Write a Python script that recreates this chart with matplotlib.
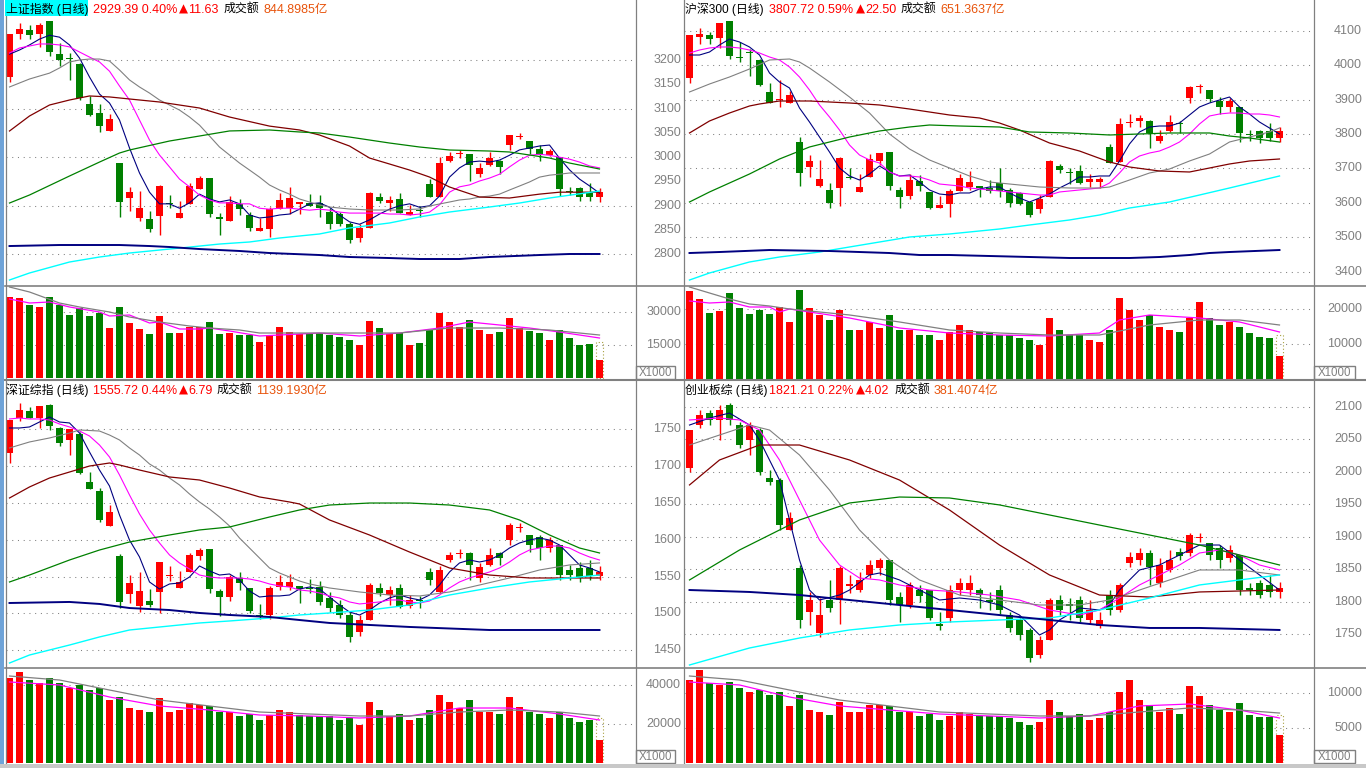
import numpy as np
import matplotlib
matplotlib.use("Agg")
import matplotlib.pyplot as plt
from matplotlib.lines import Line2D
from matplotlib.patches import Rectangle
from matplotlib.transforms import blended_transform_factory

W, H = 1366, 768
plt.rcParams["font.family"] = ["Liberation Sans", "Noto Sans CJK SC", "DejaVu Sans"]

RED = "#FF0000"
GREEN = "#008000"
GRAY = "#808080"
ORANGE = "#E8540C"
NAVY = "#000080"
MAGENTA = "#FF00FF"
MAROON = "#800000"
CYAN = "#00FFFF"

# ---------------- 上证指数 ----------------
sh_open = [3165, 3253, 3262, 3253, 3280, 3212, 3205, 3192, 3109, 3091, 3054, 2988, 2916, 2875, 2873, 2879, 2905, 2875, 2904, 2935,
           2957, 2877, 2869, 2904, 2881, 2848, 2852, 2893, 2895, 2904, 2906, 2906, 2887, 2883, 2863, 2834, 2854, 2918, 2906, 2914,
           2881, 2891, 2945, 2918, 2992, 3006, 3006, 2965, 2984, 2992, 3025, 3042, 3033, 3017, 3004, 3000, 2931, 2937, 2926, 2918]
sh_close = [3253, 3264, 3251, 3272, 3216, 3200, 3203, 3122, 3087, 3064, 3079, 2908, 2928, 2895, 2852, 2941, 2903, 2885, 2941, 2957,
            2883, 2873, 2908, 2893, 2854, 2854, 2893, 2912, 2916, 2908, 2900, 2895, 2863, 2863, 2830, 2854, 2926, 2910, 2912, 2885,
            2887, 2890, 2918, 2988, 3002, 3009, 2984, 2978, 2998, 2980, 3046, 3044, 3017, 3004, 3013, 2935, 2928, 2918, 2918, 2929.39]
sh_high = [3254, 3276, 3272, 3276, 3280, 3235, 3214, 3194, 3126, 3109, 3089, 2988, 2939, 2930, 2889, 2943, 2922, 2910, 2947, 2961,
           2957, 2885, 2920, 2914, 2887, 2875, 2897, 2926, 2939, 2908, 2924, 2922, 2895, 2887, 2867, 2863, 2928, 2926, 2920, 2926,
           2902, 2900, 2955, 3000, 3011, 3015, 3006, 2988, 3011, 2994, 3046, 3050, 3033, 3025, 3017, 3000, 2939, 2939, 2947, 2937]
sh_low = [3155, 3243, 3243, 3227, 3208, 3188, 3159, 3118, 3085, 3052, 3054, 2877, 2889, 2869, 2846, 2840, 2895, 2875, 2904, 2935,
          2877, 2840, 2869, 2881, 2848, 2848, 2836, 2893, 2883, 2883, 2900, 2877, 2852, 2858, 2823, 2825, 2854, 2906, 2889, 2885,
          2881, 2877, 2918, 2918, 2990, 2998, 2951, 2959, 2982, 2965, 3015, 3037, 3007, 2992, 3002, 2920, 2922, 2910, 2910, 2908]
sh_ma5 = [3212, 3220.6, 3231, 3243, 3251, 3247, 3231, 3204, 3165, 3130, 3111.5, 3076.5, 3019, 2967.5, 2928, 2904, 2904, 2895, 2906, 2924,
          2914, 2908, 2912, 2904, 2881, 2875, 2877, 2881, 2883, 2893, 2904, 2906, 2897, 2881, 2867, 2862, 2871, 2883, 2893, 2900,
          2904, 2897, 2900, 2920, 2959, 2978, 2990, 2992, 2990, 2994, 3004, 3015, 3019, 3023, 3025, 2998, 2974, 2955, 2941, 2926]
sh_ma10 = [3214.4, 3224.7, 3228.8, 3233, 3233, 3231, 3227, 3216.5, 3206, 3196, 3177, 3146.5, 3117.7, 3076.5, 3035.4, 3004.5, 2980, 2955, 2939, 2922,
           2912, 2906, 2906, 2904, 2904, 2895, 2893, 2895, 2895, 2893, 2891, 2893, 2891, 2887, 2885, 2885, 2885, 2885, 2883, 2883,
           2881, 2883, 2887, 2902, 2928, 2939, 2943, 2951, 2957, 2965, 2980, 2994, 3004, 3006, 3004, 3000, 2996, 2990, 2982, 2978]
sh_ma20 = [3144.5, 3152.7, 3160.9, 3167, 3173, 3183.6, 3196, 3200, 3202, 3202, 3198, 3179.5, 3159, 3144.5, 3132, 3117.7, 3107.4, 3097, 3082.7, 3066,
           3043.6, 3021, 3004.5, 2988, 2973.6, 2959, 2942.8, 2932.5, 2924, 2914, 2907.8, 2901.6, 2897.5, 2895.4, 2893.4, 2892.4, 2891.3, 2891.3, 2891.3, 2891.3,
           2892.4, 2893.4, 2899.5, 2903.7, 2907.8, 2912, 2914, 2918, 2920, 2924, 2932.5, 2940.7, 2949, 2959, 2963, 2965, 2967.5, 2967.5, 2967.5, 2967.5]
sh_ma60_i = [0, 2, 4, 6, 8, 10, 12, 15, 19, 22, 26, 29, 31, 34, 36, 38, 40, 42, 44, 47, 50, 53, 55, 59]
sh_ma60 = [3053.9, 3084.8, 3107.4, 3117.7, 3126, 3124, 3119.8, 3113.6, 3101.2, 3082.7, 3064, 3056, 3045.7, 3023, 2998.3, 2986, 2973.6, 2959.2,
           2938.7, 2918, 2916, 2924, 2928, 2928]
sh_ma120_i = [0, 2, 6, 9, 11, 12, 16, 19, 22, 26, 29, 31, 34, 38, 41, 44, 48, 50, 52, 54, 56, 59]
sh_ma120 = [2905.7, 2922.2, 2961.3, 2990, 3008.6, 3014.8, 3033.3, 3043.6, 3054, 3056, 3051.9, 3049.8, 3041.5, 3029.2, 3021, 3014.8, 3012.7,
            3010.7, 3004.5, 2998.3, 2988, 2975.7]
sh_ma250_i = [0, 2, 6, 9, 12, 16, 18, 21, 24, 27, 31, 34, 38, 41, 44, 48, 51, 54, 59]
sh_ma250 = [2747.3, 2761.7, 2784.3, 2794.6, 2802.8, 2811, 2815, 2821.3, 2825.5, 2833.7, 2842, 2854.3, 2864.6, 2877, 2887.2, 2897.5, 2905.7, 2916, 2930.4]
sh_malong_i = [0, 5, 11, 14, 16, 19, 23, 26, 31, 34, 38, 41, 45, 48, 53, 56, 59]
sh_malong = [2817.2, 2819.3, 2819.3, 2817.2, 2815.2, 2811, 2807, 2802.8, 2798.7, 2794.6, 2792.5, 2790.5, 2790.5, 2794.6, 2798.7, 2800.8, 2800.8]
sh_vol = [36950, 36360, 33300, 32400, 36950, 33300, 28770, 31950, 28320, 29680, 22860, 32400, 25130, 22400, 20130, 28320, 20590, 20590, 23180, 23320,
          25590, 20130, 20590, 19680, 19680, 16500, 19680, 23180, 21040, 20130, 20130, 20590, 19540, 18630, 17270, 15000, 25900, 22720, 20000, 20450,
          15000, 15900, 21800, 29540, 25450, 23180, 26360, 21800, 20000, 20900, 27270, 22720, 21360, 20450, 17270, 21800, 18180, 15000, 15450, 8180]
sh_vol_full = 16360
sh_vma5_i = [0, 2, 4, 6, 9, 10, 12, 14, 15, 17, 19, 20, 22, 25, 27, 31, 35, 39, 43, 46, 49, 52, 55, 59]
sh_vma5 = [35900, 34090, 34540, 32270, 30000, 28180, 28630, 25000, 25450, 22270, 22270, 22720, 21360, 19090, 19540, 20450, 19090, 20450,
           22720, 25450, 24090, 22720, 20900, 18180]
sh_vma10_i = [0, 2, 5, 7, 10, 12, 15, 18, 20, 23, 25, 31, 39, 44, 49, 54, 59]
sh_vma10 = [41360, 39090, 34090, 32270, 30000, 27720, 25450, 23630, 22720, 21820, 20450, 20450, 20450, 22720, 22720, 21820, 19540]

# ---------------- 沪深300 ----------------
hs_open = [3962.8, 4082, 4087.8, 4079, 4128.5, 4023.8, 4037, 4015, 3922, 3898.8, 3890, 3776.7, 3704, 3648.8, 3637, 3643, 3675.9, 3631.4, 3675, 3721.5,
           3747.6, 3637, 3619.7, 3663.3, 3631.4, 3585, 3596.5, 3634.3, 3646, 3648.8, 3643, 3657.5, 3637, 3628.5, 3602.3, 3582, 3616.8, 3707, 3690.9, 3692.4,
           3660.4, 3660.4, 3762.2, 3718.6, 3832, 3837.7, 3837.7, 3779.6, 3808.7, 3832, 3904.6, 3936.6, 3927.9, 3895.9, 3878.5, 3878.5, 3798.5, 3808.7, 3808.7, 3788.3]
hs_close = [4087.8, 4090.7, 4076.1, 4122.6, 4026.7, 4021, 4034, 3942.4, 3890, 3901.7, 3913.3, 3686.6, 3721.5, 3669, 3599.4, 3730, 3672, 3646, 3727.3, 3744.8,
            3648.8, 3616.8, 3666, 3648.8, 3585, 3593.6, 3634.3, 3672, 3660.5, 3643, 3634.3, 3634.3, 3599.4, 3596.5, 3564.5, 3611, 3721.5, 3695.3, 3688, 3657.5,
            3669.1, 3667.7, 3715.7, 3829, 3834.8, 3846.5, 3802.9, 3794.2, 3834.8, 3829, 3936.6, 3939.5, 3901.7, 3878.5, 3895.9, 3802.9, 3795.6, 3788.3, 3788.3, 3807.72]
hs_high = [4087.8, 4108, 4096.5, 4122.6, 4128.5, 4067.4, 4047, 4018, 3948, 3957, 3925, 3791, 3739, 3724.4, 3657.5, 3733, 3701, 3683.7, 3741.8, 3744.8,
           3747.6, 3646, 3683.7, 3680.8, 3631.4, 3619.7, 3640, 3683.7, 3692.4, 3648.8, 3666, 3701, 3643, 3631.4, 3602.3, 3622.6, 3724.4, 3712.8, 3701.1, 3709.8,
           3683.7, 3675, 3770.9, 3846.5, 3858, 3855.2, 3840.7, 3811.6, 3855.2, 3837.7, 3939.5, 3945.3, 3927.9, 3907.5, 3904.6, 3878.5, 3811.6, 3811.6, 3832, 3820.3]
hs_low = [3948.2, 4061.6, 4061.6, 4050, 4018, 4009.3, 3968.6, 3939.5, 3890, 3878, 3890, 3648.8, 3675, 3646, 3585, 3590.6, 3669, 3631.4, 3675, 3709.8,
          3637, 3585, 3611, 3634.3, 3582, 3585, 3558.7, 3634.3, 3637, 3616.8, 3628.5, 3616.8, 3587.8, 3593.6, 3558.7, 3570.3, 3616.8, 3686.6, 3654.6, 3654.6,
          3645.9, 3643, 3715.7, 3718.6, 3820.3, 3820.3, 3759.3, 3773.8, 3805.8, 3802.9, 3890.1, 3919.2, 3893, 3858.1, 3863.9, 3776.7, 3779.6, 3773.8, 3779.6, 3776.7]
hs_ma5 = [4029.6, 4029.6, 4038.3, 4058.7, 4076.1, 4067.4, 4052.9, 4029.6, 3977.3, 3951.1, 3933.7, 3875.5, 3834.8, 3791.2, 3747.6, 3701.1, 3677.9, 3666.2, 3683.7, 3706.9,
          3689.5, 3677.9, 3680.8, 3660.4, 3637.2, 3625.5, 3622.6, 3628.5, 3628.5, 3640.1, 3645.9, 3645.9, 3628.5, 3613.9, 3602.3, 3613.9, 3625.5, 3643, 3657.5, 3675,
          3675, 3677.9, 3677.9, 3721.5, 3770.9, 3805.8, 3820.3, 3823.2, 3823.2, 3831.9, 3855.2, 3878.5, 3890.1, 3898.8, 3907.5, 3878.5, 3858.1, 3834.8, 3817.4, 3800]
hs_ma10 = [4035.4, 4044.1, 4050, 4052.9, 4052.9, 4050, 4044.1, 4035.4, 4023.8, 4015.1, 3994.7, 3965.7, 3927.9, 3884.3, 3849.4, 3811.6, 3768, 3738.9, 3724.4, 3715.7,
           3689.5, 3677.9, 3677.9, 3675, 3666.2, 3654.6, 3651.7, 3648.8, 3643, 3640.1, 3637.2, 3634.3, 3631.4, 3628.5, 3625.5, 3622.6, 3622.6, 3631.4, 3634.3, 3637.2,
           3640.1, 3643, 3657.5, 3686.6, 3718.6, 3736, 3744.7, 3750.5, 3762.2, 3776.7, 3800, 3829, 3852.3, 3858.1, 3861, 3861, 3858.1, 3858.1, 3855.2, 3849.4]
hs_ma20_i = [0, 2, 4, 6, 8, 10, 11, 12, 14, 16, 18, 20, 22, 24, 26, 28, 30, 32, 35, 38, 41, 42, 44, 46, 48, 50, 52, 54, 56, 58, 59]
hs_ma20 = [3922.1, 3945.3, 3965.7, 3988.9, 4015.1, 4018, 4009.3, 3991.8, 3951.1, 3907.5, 3861, 3800, 3756.4, 3724.4, 3701.1, 3677.9, 3660.4,
           3654.6, 3645.9, 3643, 3643, 3645.9, 3666.2, 3686.6, 3698.2, 3721.5, 3741.8, 3776.7, 3791.2, 3805.8, 3817.4]
hs_ma60_i = [0, 2, 4, 6, 7, 9, 12, 16, 19, 22, 26, 29, 31, 33, 36, 39, 42, 44, 47, 50, 52, 54, 56, 59]
hs_ma60 = [3802.9, 3837.8, 3861, 3881.4, 3887.2, 3895.9, 3895.9, 3890.1, 3884.3, 3872.6, 3855.2, 3846.5, 3831.9, 3811.6, 3773.8, 3750.5,
           3718.6, 3704, 3692.4, 3689.5, 3701.1, 3712.8, 3721.5, 3727.3]
hs_ma120_i = [0, 2, 6, 9, 11, 12, 16, 19, 22, 24, 27, 31, 34, 38, 42, 48, 52, 54, 56, 59]
hs_ma120 = [3602.3, 3631.4, 3683.7, 3727.3, 3750.5, 3762.2, 3791.2, 3808.7, 3820.3, 3826.1, 3823.2, 3820.3, 3805.8, 3802.9, 3797.1, 3802.9,
            3802.9, 3794.1, 3788.3, 3776.7]
hs_ma250_i = [0, 2, 6, 9, 13, 16, 19, 22, 26, 31, 34, 38, 41, 44, 48, 51, 54, 59]
hs_ma250 = [3375.5, 3395.9, 3427.9, 3442.4, 3456.9, 3471.5, 3486, 3500.5, 3509.3, 3523.8, 3535.4, 3550, 3564.5, 3584.8, 3602.3, 3622.6, 3643, 3677.9]
hs_malong_i = [0, 3, 8, 14, 17, 20, 23, 26, 30, 34, 38, 44, 47, 50, 52, 54, 59]
hs_malong = [3454, 3456.9, 3462.7, 3459.8, 3456.9, 3454, 3448.2, 3448.2, 3445.3, 3442.4, 3439.5, 3439.5, 3442.4, 3448.2, 3454, 3456.9, 3462.7]
hs_vol = [25140, 22860, 18860, 19430, 24570, 20280, 18570, 19710, 18570, 20570, 16290, 25430, 20280, 18290, 16860, 19710, 14000, 14000, 16290, 14570,
          18290, 14000, 14000, 12570, 12570, 11140, 13430, 15430, 14000, 13430, 13140, 12570, 12570, 11710, 11140, 9710, 17430, 14000, 12570, 12570,
          11140, 10570, 14000, 23140, 19710, 16860, 18290, 14860, 14000, 13430, 17430, 22000, 17430, 15430, 16290, 14860, 13140, 12000, 11710, 6570]
hs_vol_full = 12570
hs_vma5_i = [0, 1, 2, 4, 6, 8, 9, 10, 16, 21, 26, 31, 36, 41, 43, 46, 51, 55, 59]
hs_vma5 = [22290, 22000, 21710, 22000, 20570, 20570, 19140, 20000, 17430, 14570, 13140, 12570, 12290, 13140, 16860, 18290, 17430, 16290, 13430]
hs_vma10_i = [0, 2, 4, 6, 8, 10, 16, 21, 26, 31, 36, 41, 46, 51, 55, 59]
hs_vma10 = [26280, 24570, 22860, 21430, 20860, 20000, 18290, 16290, 14000, 13140, 12570, 12570, 15430, 16860, 16860, 15430]

# ---------------- 深证综指 ----------------
sz_open = [1716.9, 1764.2, 1773.7, 1764.2, 1781.8, 1750.7, 1734.5, 1742.6, 1677.7, 1665.6, 1618.3, 1577.7, 1526.4, 1510.1, 1516.9, 1529.1, 1550.7, 1534.5, 1556.1, 1577.7,
           1587.2, 1530.4, 1522.3, 1548, 1534.5, 1497.3, 1498, 1535.8, 1535.8, 1537.2, 1534.5, 1535.8, 1521, 1511.5, 1498, 1475, 1491.2, 1534.5, 1525, 1534.5,
           1510.2, 1518.3, 1556.1, 1529.1, 1572.3, 1580.4, 1581.8, 1548, 1565.6, 1581.8, 1599.3, 1615.6, 1606.1, 1603.4, 1588.5, 1592.6, 1558.8, 1561.5, 1561.5, 1550.7]
sz_close = [1761.5, 1775, 1764.2, 1780.4, 1753.4, 1730.4, 1749.4, 1689.9, 1668.3, 1626.4, 1637.2, 1515.5, 1541.2, 1530.4, 1511.5, 1569.6, 1552.1, 1542.6, 1579.1, 1585.8,
            1533.1, 1522.3, 1549.3, 1541.2, 1503.4, 1496, 1534.5, 1542.6, 1542.6, 1533.1, 1533.1, 1515.5, 1507.4, 1498, 1468.3, 1491.2, 1538.5, 1527.7, 1531.8, 1508.8,
            1518.3, 1516.9, 1545.3, 1558.8, 1579.1, 1581.8, 1565.6, 1562.9, 1579.1, 1575, 1619.6, 1616.9, 1592.6, 1588.5, 1599.3, 1552, 1552, 1548, 1550.7, 1555.72]
sz_high = [1761.5, 1784.5, 1779, 1780.4, 1783.1, 1752.1, 1749.4, 1745.3, 1691.2, 1669.6, 1646.6, 1580.4, 1552.1, 1556.1, 1533.1, 1569.6, 1564.2, 1557.4, 1581.8, 1588.5,
           1587.2, 1533.1, 1552.1, 1556.1, 1534.5, 1512.8, 1537.2, 1552.1, 1553.5, 1537.2, 1546.6, 1543.9, 1529.1, 1518.3, 1502, 1498, 1541.2, 1541.2, 1537.2, 1539.9,
           1525, 1523.7, 1561.5, 1564.2, 1583.1, 1587.2, 1583.1, 1568.3, 1588.5, 1583.1, 1622.3, 1622.3, 1606.1, 1606.1, 1603.4, 1592.6, 1565.6, 1569.6, 1572.3, 1564.2]
sz_low = [1703.4, 1760.1, 1764.2, 1750.7, 1748, 1726.4, 1714.2, 1688.6, 1668.3, 1623.7, 1618.3, 1507.4, 1514.2, 1502, 1508.8, 1500.7, 1543.9, 1534.5, 1556.1, 1572.3,
          1527.7, 1496.6, 1516.9, 1531.8, 1500.7, 1492.6, 1492.6, 1531.8, 1531.8, 1514.2, 1527.7, 1511.5, 1502, 1493.9, 1461.5, 1469.6, 1491.2, 1523.7, 1511.5, 1507.4,
          1507.4, 1507.4, 1538.5, 1527.7, 1569.6, 1575, 1545.3, 1542.6, 1564.2, 1565.6, 1592.6, 1610.2, 1583.1, 1572.3, 1583.1, 1545.3, 1545.3, 1542.6, 1545.3, 1545.3]
sz_ma5 = [1750.7, 1750.7, 1752.1, 1758.8, 1765.6, 1758.8, 1757.5, 1743.9, 1718.3, 1693.9, 1672.3, 1633.1, 1599.3, 1576.4, 1542.6, 1533.1, 1539.9, 1541.2, 1549.3, 1564.2,
          1557.5, 1552, 1553.4, 1545.3, 1530.4, 1522.3, 1523.7, 1523.7, 1525, 1533.1, 1535.8, 1533.1, 1522.3, 1511.5, 1502, 1498, 1504.7, 1514.2, 1521, 1525,
          1521, 1518.3, 1525, 1538.5, 1556.1, 1568.3, 1572.3, 1569.6, 1572.3, 1579.1, 1588.5, 1595.3, 1599.3, 1602, 1599.3, 1592.6, 1579.1, 1565.6, 1561.5, 1556.1]
sz_ma10 = [1762.9, 1764.2, 1762.9, 1762.9, 1761.5, 1756.1, 1752.1, 1746.6, 1739.9, 1727.7, 1711.5, 1687.2, 1660.2, 1634.5, 1612.9, 1595.3, 1579.1, 1568.3, 1560.2, 1552,
           1549.3, 1548, 1548, 1548, 1546.6, 1543.9, 1539.9, 1537.2, 1535.8, 1531.8, 1530.4, 1527.7, 1523.7, 1521, 1515.6, 1512.9, 1514.2, 1515.6, 1518.3, 1518.3,
           1515.6, 1514.2, 1516.9, 1525, 1534.5, 1542.6, 1548, 1552, 1556.1, 1561.5, 1569.6, 1579.1, 1585.8, 1588.5, 1591.2, 1591.2, 1588.5, 1581.8, 1576.4, 1572.3]
sz_ma20_i = [0, 2, 4, 6, 7, 9, 10, 11, 12, 13, 14, 15, 16, 17, 18, 19, 20, 21, 22, 23, 24, 25, 26, 27, 28, 29, 30, 31, 32, 35, 38, 41, 44, 47, 50, 53, 56, 59]
sz_ma20 = [1723.7, 1731.8, 1737.2, 1743.9, 1748, 1746.6, 1741.2, 1734.5, 1723.7, 1714.2, 1702.1, 1693.9, 1683.1, 1673.7, 1661.5, 1650.7, 1641.2, 1630.4, 1618.3, 1602,
           1588.5, 1575, 1561.5, 1554.7, 1549.3, 1543.9, 1539.9, 1537.2, 1534.5, 1529.1, 1525, 1523.7, 1529.1, 1538.5, 1548, 1558.8, 1565.6, 1568.3]
sz_ma60_i = [0, 2, 4, 6, 8, 10, 11, 13, 16, 19, 22, 25, 28, 29, 32, 36, 40, 44, 48, 52, 56, 59]
sz_ma60 = [1656.1, 1671, 1683.1, 1691.2, 1699.3, 1703.4, 1700.7, 1693.9, 1684.5, 1680.4, 1669.6, 1657.5, 1650.7, 1648, 1626.4, 1606.1, 1583.1, 1561.5,
           1552, 1548, 1548, 1548]
sz_ma120_i = [0, 2, 6, 9, 12, 16, 19, 22, 26, 29, 32, 36, 40, 44, 48, 51, 54, 57, 59]
sz_ma120 = [1542.6, 1552, 1572.3, 1585.8, 1596.6, 1606.1, 1612.9, 1616.9, 1630.4, 1639.9, 1646.6, 1649.3, 1649.3, 1646.6, 1639.9, 1626.4, 1606.1, 1588.5, 1581.8]
sz_ma250_i = [0, 2, 6, 9, 12, 16, 19, 22, 26, 29, 32, 36, 40, 44, 48, 52, 56, 59]
sz_ma250 = [1433.1, 1443.9, 1457.4, 1468.3, 1477.7, 1483.1, 1487.2, 1489.9, 1493.9, 1498, 1500.7, 1504.7, 1511.5, 1525, 1534.5, 1542.6, 1548, 1552]
sz_malong_i = [0, 6, 9, 12, 16, 19, 22, 26, 29, 32, 40, 48, 59]
sz_malong = [1514.2, 1515.6, 1512.9, 1507.4, 1504.7, 1500.7, 1498, 1495.3, 1491.2, 1487.2, 1481.8, 1477.7, 1477.7]
sz_vol = [43590, 46660, 42560, 41020, 43590, 41020, 38460, 40000, 37430, 38460, 32310, 33840, 28200, 27180, 26150, 33330, 26150, 27180, 30770, 29740,
          29230, 26150, 26150, 24100, 25130, 22050, 24610, 27180, 26150, 24610, 24100, 24100, 24100, 22050, 23080, 19490, 31280, 27180, 24100, 25130,
          22050, 23080, 27180, 34870, 31280, 28200, 32310, 26150, 26150, 25130, 33840, 28720, 26150, 25130, 23080, 26150, 23080, 21020, 22050, 11790]
sz_vol_full = 23080
sz_vma5_i = [0, 5, 10, 15, 20, 25, 30, 35, 40, 45, 50, 55, 59]
sz_vma5 = [41540, 40000, 33840, 29230, 27180, 24610, 24100, 23080, 24100, 28200, 28200, 25130, 22050]
sz_vma10_i = [0, 5, 10, 15, 20, 25, 30, 35, 40, 45, 50, 55, 59]
sz_vma10 = [44610, 42560, 37430, 32310, 29230, 26150, 25130, 24100, 24100, 26150, 27180, 26150, 24100]

# ---------------- 创业板综 ----------------
cy_open = [2005.9, 2072.2, 2090.7, 2080, 2103.1, 2072.2, 2049.1, 2064.5, 1990.5, 1987.4, 1910.4, 1851.8, 1783.9, 1751.5, 1802.4, 1802.4, 1824, 1817.8, 1841, 1851.8,
           1864.1, 1807, 1794.7, 1817.8, 1817.8, 1765.4, 1774.6, 1817.8, 1817.8, 1817.8, 1802.4, 1817.8, 1779.2, 1771.6, 1756.2, 1717.6, 1740.8, 1802.4, 1796.3, 1802.4,
           1771.6, 1762.3, 1810.1, 1787, 1859.5, 1864.1, 1874.9, 1828.6, 1848.7, 1876.4, 1874.9, 1898, 1890.3, 1882.6, 1867.2, 1871.8, 1820.9, 1828.6, 1825.6, 1814.8]
cy_close = [2064.5, 2087.6, 2080, 2095.4, 2080, 2041.4, 2072.2, 1999.8, 1984.4, 1918, 1928.8, 1771.6, 1802.4, 1779.2, 1790.1, 1851.8, 1827.1, 1833.3, 1856.4, 1864.1,
            1802.4, 1794.7, 1825.6, 1808.6, 1774.6, 1762.3, 1817.8, 1828.6, 1828.6, 1810.1, 1799.3, 1787, 1759.3, 1748.5, 1713, 1740.8, 1802.4, 1787, 1793.2, 1774.6,
            1787, 1771.6, 1787, 1825.6, 1868.7, 1874.9, 1853.3, 1856.4, 1864.1, 1870.3, 1902.6, 1899.6, 1871.8, 1864.1, 1879.5, 1817.8, 1817.8, 1810.1, 1814.8, 1821.21]
cy_high = [2064.5, 2095.4, 2095.4, 2103.1, 2106.2, 2076.9, 2076.9, 2067.6, 2002.9, 1990.5, 1938.1, 1856.4, 1814.8, 1805.5, 1833.3, 1854.8, 1841, 1845.6, 1864.1, 1867.2,
           1864.1, 1814.8, 1830.2, 1825.6, 1817.8, 1783.9, 1825.6, 1836.3, 1841, 1820.9, 1814.8, 1825.6, 1783.9, 1774.6, 1759.3, 1746.9, 1805.5, 1810.1, 1805.5, 1808.6,
           1802.4, 1783.9, 1817.8, 1828.6, 1876.4, 1882.6, 1879.5, 1867.2, 1879.5, 1882.6, 1905.7, 1905.7, 1890.3, 1887.2, 1887.2, 1871.8, 1828.6, 1833.3, 1841, 1830.2]
cy_low = [1999.8, 2067.6, 2072.2, 2049.1, 2072.2, 2036.8, 2026, 1995.2, 1979.8, 1910.4, 1910.4, 1759.3, 1763.9, 1745.4, 1783.9, 1765.4, 1813.2, 1814.8, 1836.3, 1841,
          1794.7, 1768.5, 1790.1, 1799.3, 1771.6, 1756.2, 1768.5, 1810.1, 1810.1, 1790.1, 1787, 1780.8, 1753.1, 1740.8, 1706.9, 1713, 1740.8, 1779.2, 1771.6, 1768.5,
          1765.4, 1759.3, 1779.2, 1783.9, 1853.3, 1856.4, 1825.6, 1822.5, 1845.6, 1864.1, 1870.3, 1891.8, 1864.1, 1851.8, 1861, 1810.1, 1810.1, 1805.5, 1807, 1805.5]
cy_ma5_i = [0, 2, 4, 6, 7, 9, 10, 11, 12, 13, 15, 16, 18, 19, 21, 23, 25, 27, 29, 31, 33, 35, 36, 37, 39, 41, 42, 43, 45, 47, 49, 51, 53, 55, 57, 59]
cy_ma5 = [2072.2, 2083, 2090.7, 2072.2, 2049.1, 1987.4, 1925.8, 1864.1, 1817.8, 1802.4, 1810.1, 1817.8, 1841, 1844, 1833.3, 1817.8, 1802.4, 1805.5,
          1802.4, 1794.7, 1779.2, 1748.5, 1756.2, 1771.6, 1790.1, 1787, 1794.7, 1817.8, 1848.7, 1856.4, 1871.8, 1887.2, 1887.2, 1864.1, 1841, 1817.8]
cy_ma10_i = [0, 3, 5, 7, 9, 11, 13, 15, 17, 19, 21, 24, 27, 30, 33, 36, 39, 41, 43, 45, 47, 49, 51, 53, 55, 57, 59]
cy_ma10 = [2080, 2083, 2080, 2064.5, 2018.3, 1956.6, 1894.9, 1856.4, 1836.3, 1833.3, 1825.6, 1817.8, 1814.8, 1810.1, 1802.4, 1787, 1779.2, 1787,
           1805.5, 1825.6, 1841, 1856.4, 1874.9, 1879.5, 1871.8, 1856.4, 1848.7]
cy_ma20_i = [0, 3, 6, 8, 11, 14, 17, 20, 23, 27, 31, 35, 39, 42, 45, 48, 51, 55, 59]
cy_ma20 = [2041.4, 2056.8, 2072.2, 2064.5, 2026, 1972, 1910.4, 1864.1, 1833.3, 1810.1, 1802.4, 1794.7, 1794.7, 1802.4, 1817.8, 1833.3, 1848.7, 1848.7, 1841]
cy_ma60_i = [0, 3, 7, 11, 16, 21, 26, 31, 36, 41, 46, 51, 59]
cy_ma60 = [1979.8, 2018.3, 2041.4, 2041.4, 2018.3, 1987.4, 1941.2, 1887.2, 1841, 1810.1, 1807, 1814.8, 1817.8]
cy_ma120_i = [0, 5, 11, 16, 21, 26, 31, 36, 41, 46, 51, 59]
cy_ma120 = [1833.3, 1879.5, 1925.8, 1952, 1961.2, 1959.7, 1949, 1933.5, 1918, 1902.6, 1887.2, 1856.4]
cy_ma250_i = [0, 6, 11, 16, 21, 26, 31, 36, 41, 46, 51, 59]
cy_ma250 = [1702.2, 1728.4, 1743.8, 1756.2, 1763.9, 1768.5, 1771.6, 1774.6, 1787, 1805.5, 1825.6, 1841]
cy_malong_i = [0, 6, 11, 16, 21, 26, 31, 36, 41, 46, 51, 59]
cy_malong = [1817.8, 1814.8, 1810.1, 1802.4, 1794.7, 1787, 1779.2, 1771.6, 1763.9, 1759.3, 1759.3, 1756.2]
cy_vol = [11860, 13290, 11430, 11150, 11570, 10720, 10150, 10430, 9720, 10150, 8150, 9720, 7570, 7290, 6860, 8720, 7290, 7290, 8290, 8290,
          8150, 7290, 7290, 6720, 7000, 6150, 6720, 7290, 7000, 6720, 6720, 6720, 6430, 5860, 5430, 5860, 9000, 7290, 6720, 7000,
          6150, 6430, 7290, 10150, 11860, 9000, 8290, 7290, 7860, 7000, 11000, 9570, 8290, 7570, 7290, 8570, 6860, 6570, 6570, 4000]
cy_vol_full = 6860
cy_vma5_i = [0, 5, 10, 15, 20, 25, 30, 35, 40, 45, 50, 55, 59]
cy_vma5 = [11570, 11150, 9430, 8150, 7570, 7000, 6720, 6430, 6720, 8150, 8430, 7570, 6430]
cy_vma10_i = [0, 5, 10, 15, 20, 25, 30, 35, 40, 45, 50, 55, 59]
cy_vma10 = [12430, 11860, 10430, 9000, 8150, 7290, 7000, 6720, 6720, 7290, 7860, 7570, 7140]

# ---------------- layout ----------------
fig = plt.figure(figsize=(W / 100, H / 100), dpi=100)
fig.patch.set_facecolor("white")


def px_axes(x0, y0, x1, y1):
    ax = fig.add_axes([x0 / W, 1 - y1 / H, (x1 - x0) / W, (y1 - y0) / H])
    ax.set_facecolor("white")
    ax.set_xticks([])
    ax.set_yticks([])
    for s in ax.spines.values():
        s.set_visible(False)
    return ax


def dotted(ax, v):
    ax.axhline(v, color=GRAY, lw=0.75, ls=(0, (1, 4.5)), zorder=0.5)


def draw_panel(p):
    x0, x1, c0 = p["x0"], p["x1"], p["c0"]
    top, mid, bot = p["y_top"], p["y_mid"], p["y_bot"]
    xl = ((x0 - c0) / 10.0, (x1 - c0) / 10.0)

    axp = px_axes(x0, top, x1, mid)
    axp.set_xlim(*xl)
    axp.set_ylim(*p["ylim"])
    unit = (p["ylim"][1] - p["ylim"][0]) / (mid - top)

    o, h, l, c = (np.asarray(p[k], float) for k in ("open", "high", "low", "close"))
    x = np.arange(len(c))
    cols = np.where(c >= o, RED, GREEN)
    for g in p["grid"]:
        dotted(axp, g)
    axp.vlines(x, l, h, colors=cols, lw=1.0, zorder=2)
    axp.bar(x, np.maximum(np.abs(c - o), unit), width=0.7, bottom=np.minimum(o, c),
            color=cols, linewidth=0, zorder=2.5)
    for xi, vals, col, lw in p["lines"]:
        axp.plot(xi, vals, color=col, lw=lw, zorder=3, solid_joinstyle="round")

    trp = blended_transform_factory(fig.transFigure, axp.transData)
    for t in p["ticks"]:
        axp.text(p["lab_x"] / W, t, str(t), transform=trp, ha="right", va="center",
                 color=GRAY, fontsize=9, clip_on=False)

    # volume
    axv = px_axes(x0, mid + 1, x1, bot)
    axv.set_xlim(*xl)
    axv.set_ylim(*p["vlim"])
    v = np.asarray(p["vol"], float)
    for g in p["vticks"]:
        dotted(axv, g)
    axv.add_patch(Rectangle((x[-1] - 0.35, 0), 0.7, p["vol_full"], fill=False,
                            ec="#A8A040", lw=0.8, ls=(0, (1, 2)), zorder=1.5))
    axv.bar(np.arange(len(v)), v, width=0.7, color=cols[:len(v)], linewidth=0, zorder=2)
    axv.plot(p["vma5_i"], p["vma5"], color=MAGENTA, lw=0.9, zorder=3)
    axv.plot(p["vma10_i"], p["vma10"], color=GRAY, lw=0.9, zorder=3)
    trv = blended_transform_factory(fig.transFigure, axv.transData)
    for t in p["vticks"]:
        axv.text(p["lab_x"] / W, t, str(t), transform=trv, ha="right", va="center",
                 color=GRAY, fontsize=9, clip_on=False)

    # X1000 box
    bx0, bx1 = p["box_x"]
    fig.add_artist(Rectangle((bx0 / W, 1 - bot / H), (bx1 - bx0) / W, 13 / H,
                             transform=fig.transFigure, fill=False, ec=GRAY, lw=1, zorder=4))
    fig.text((bx0 + bx1) / 2 / W, 1 - (bot - 6.5) / H, "X1000", ha="center", va="center",
             color=GRAY, fontsize=8.3, zorder=4)

    # title line
    base = 1 - p["title_y"] / H
    for txt, col, px, fs in p["title"]:
        kw = {}
        if txt == "▲":
            kw["family"] = "DejaVu Sans"
        fig.text(px / W, base, txt, color=col, fontsize=fs, ha="left", va="baseline", zorder=6, **kw)


def make_lines(pre):
    g = globals()
    out = []
    for key, col, lw in (("ma5", NAVY, 0.8), ("ma10", MAGENTA, 0.8), ("ma20", GRAY, 0.8),
                         ("ma60", MAROON, 0.9), ("ma120", GREEN, 0.9), ("ma250", CYAN, 1.0),
                         ("malong", NAVY, 1.4)):
        vals = g[pre + "_" + key]
        xi = g.get(pre + "_" + key + "_i", list(range(len(vals))))
        out.append((xi, vals, col, lw))
    return out


def ticks(a, b, step):
    return list(range(a, b - 1, -step))


NAME_FS = 8.6
TRI_FS = 8.5

panels = [
    dict(x0=6, x1=635, c0=9.5, y_top=0, y_mid=285, y_bot=379, ylim=(2737.0, 3323.5),
         open=sh_open, high=sh_high, low=sh_low, close=sh_close, lines=make_lines("sh"),
         grid=ticks(3200, 2800, 100), ticks=ticks(3200, 2800, 50), lab_x=681,
         vol=sh_vol, vol_full=sh_vol_full, vlim=(-454, 41814), vticks=[30000, 15000],
         vma5_i=sh_vma5_i, vma5=sh_vma5, vma10_i=sh_vma10_i, vma10=sh_vma10, box_x=(636, 675),
         title_y=13,
         title=[("上证指数 (日线)", "black", 6, NAME_FS), ("2929.39 0.40%", RED, 93, 9), ("▲", RED, 179, TRI_FS),
                ("11.63", RED, 188, 9), ("成交额", "black", 224, NAME_FS), ("844.8985亿", ORANGE, 263, 9)]),
    dict(x0=684, x1=1313, c0=689.5, y_top=0, y_mid=285, y_bot=379, ylim=(3361.0, 4189.5),
         open=hs_open, high=hs_high, low=hs_low, close=hs_close, lines=make_lines("hs"),
         grid=ticks(4100, 3400, 100), ticks=ticks(4100, 3400, 100), lab_x=1362,
         vol=hs_vol, vol_full=hs_vol_full, vlim=(0, 26570), vticks=[20000, 10000],
         vma5_i=hs_vma5_i, vma5=hs_vma5, vma10_i=hs_vma10_i, vma10=hs_vma10, box_x=(1314, 1355),
         title_y=13,
         title=[("沪深300 (日线)", "black", 685, NAME_FS), ("3807.72 0.59%", RED, 769, 9), ("▲", RED, 856, TRI_FS),
                ("22.50", RED, 865, 9), ("成交额", "black", 901, NAME_FS), ("651.3637亿", ORANGE, 940, 9)]),
    dict(x0=6, x1=635, c0=9.5, y_top=381, y_mid=667, y_bot=763, ylim=(1427.7, 1814.2),
         open=sz_open, high=sz_high, low=sz_low, close=sz_close, lines=make_lines("sz"),
         grid=ticks(1750, 1450, 50), ticks=ticks(1750, 1450, 50), lab_x=681,
         vol=sz_vol, vol_full=sz_vol_full, vlim=(0, 48716), vticks=[40000, 20000],
         vma5_i=sz_vma5_i, vma5=sz_vma5, vma10_i=sz_vma10_i, vma10=sz_vma10, box_x=(636, 675),
         title_y=394,
         title=[("深证综指 (日线)", "black", 6, NAME_FS), ("1555.72 0.44%", RED, 93, 9), ("▲", RED, 179, TRI_FS),
                ("6.79", RED, 188, 9), ("成交额", "black", 217, NAME_FS), ("1139.1930亿", ORANGE, 256, 9)]),
    dict(x0=684, x1=1313, c0=689.5, y_top=381, y_mid=667, y_bot=763, ylim=(1699.1, 2140.1),
         open=cy_open, high=cy_high, low=cy_low, close=cy_close, lines=make_lines("cy"),
         grid=ticks(2100, 1750, 50), ticks=ticks(2100, 1750, 50), lab_x=1362,
         vol=cy_vol, vol_full=cy_vol_full, vlim=(0, 13575), vticks=[10000, 5000],
         vma5_i=cy_vma5_i, vma5=cy_vma5, vma10_i=cy_vma10_i, vma10=cy_vma10, box_x=(1314, 1355),
         title_y=394,
         title=[("创业板综 (日线)", "black", 685, NAME_FS), ("1821.21 0.22%", RED, 769, 9), ("▲", RED, 856, TRI_FS),
                ("4.02", RED, 865, 9), ("成交额", "black", 895, NAME_FS), ("381.4074亿", ORANGE, 934, 9)]),
]

# highlight of the active panel name
fig.add_artist(Rectangle((5 / W, 1 - 16 / H), 83 / W, 16 / H, transform=fig.transFigure,
                         color=CYAN, lw=0, zorder=5))

for p in panels:
    draw_panel(p)


# frame lines
def hline(y, x0=0, x1=W, lw=1.0):
    fig.add_artist(Line2D([x0 / W, x1 / W], [1 - y / H, 1 - y / H], transform=fig.transFigure,
                          color=GRAY, lw=lw, zorder=4))


def vline(x, y0=0, y1=H, lw=1.0):
    fig.add_artist(Line2D([x / W, x / W], [1 - y0 / H, 1 - y1 / H], transform=fig.transFigure,
                          color=GRAY, lw=lw, zorder=4))


for yy in (285.5, 667.5):
    hline(yy, 5, W, lw=1.2)
hline(380, 5, W, lw=1.5)
for xx in (5.5, 635.5, 683.5, 1313.5):
    vline(xx, 0, 764, lw=0.9)

fig.add_artist(Rectangle((0, 0), 4 / W, 1, transform=fig.transFigure, color="#6FA3D8", lw=0, zorder=4))
fig.add_artist(Rectangle((0, 0), 1, 4.5 / H, transform=fig.transFigure, color="#C8C8C8", lw=0, zorder=4))

fig.savefig("out.png", dpi=100, facecolor="white")
